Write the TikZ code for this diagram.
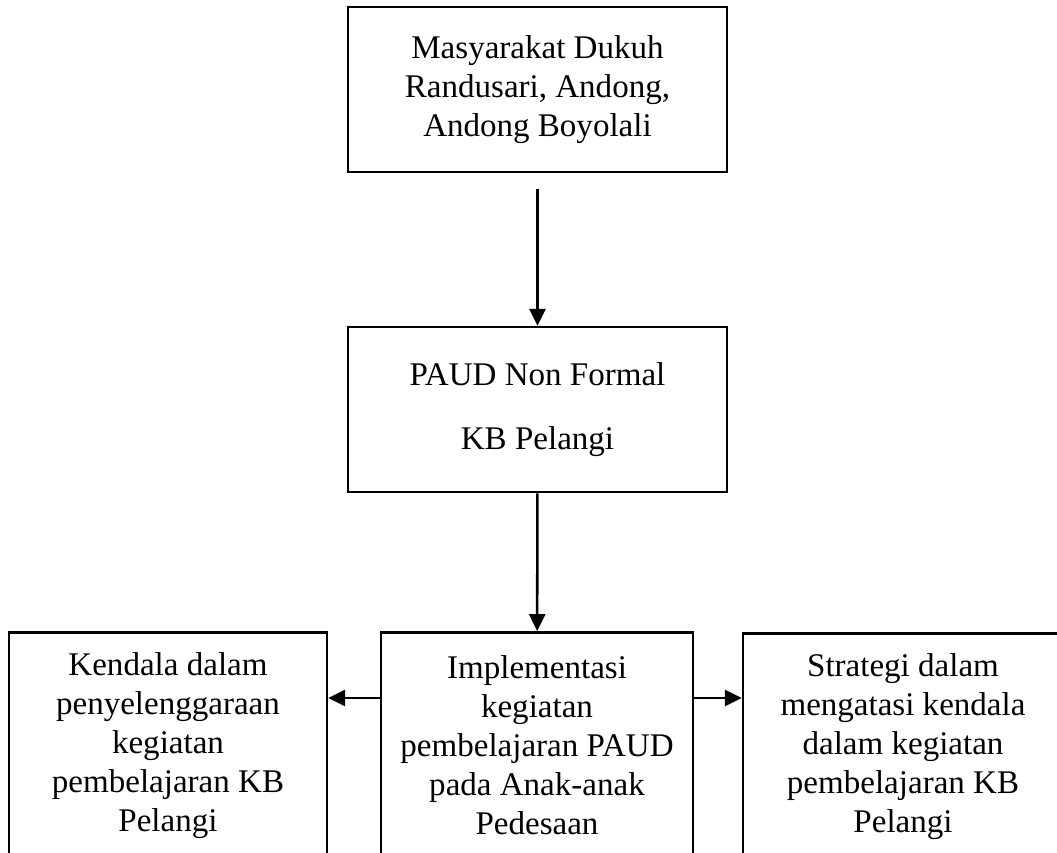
\documentclass[tikz,border=0pt]{standalone}
\usepackage{fontspec}
\setmainfont{Liberation Serif}
\usetikzlibrary{arrows.meta, positioning}

\begin{document}
\begin{tikzpicture}
		\tikzstyle{Node} = [rectangle, draw=black, line width=1.8pt, align=center, font=\fontsize{23.5}{27.7}\selectfont]
		\tikzstyle{arrow} = [line width=1.8pt,-{Triangle[length=4.2mm,width=4mm]}]
		
		\clip (0,0) rectangle (26.425,21.3);
		
		\node (masy) [Node, minimum width=9.475cm, minimum height=4.125cm] at (13.4375,19.0625) {Masyarakat Dukuh\\Randusari, Andong,\\Andong Boyolali};
		\node (paud) [Node, minimum width=9.475cm, minimum height=4.125cm] at (13.4375,11.0625) {PAUD Non Formal\\[0.62cm]KB Pelangi};
		
		\node (impl) [Node, anchor=north, minimum width=7.8cm, minimum height=5.65cm] at (13.425,5.525) {Implementasi\\kegiatan\\pembelajaran PAUD\\pada Anak-anak\\Pedesaan};
		\node (kend) [Node, anchor=north, minimum width=7.95cm, minimum height=5.65cm] at (4.2,5.525) {Kendala dalam\\penyelenggaraan\\kegiatan\\pembelajaran KB\\Pelangi};
		\node (strat) [Node, anchor=north, minimum width=8cm, minimum height=5.65cm] at (22.575,5.5) {Strategi dalam\\mengatasi kendala\\dalam kegiatan\\pembelajaran KB\\Pelangi};
		
		\draw [arrow, shorten <=0.4cm] (masy) -- (paud);
		\draw [arrow] (paud) -- (impl);
		\draw [arrow] ([yshift=-1.675cm]impl.north west) -- ([yshift=-1.675cm]impl.north west -| kend.east);
		\draw [arrow] ([yshift=-1.675cm]impl.north east) -- ([yshift=-1.675cm]impl.north east -| strat.west);
\end{tikzpicture}
\end{document}
